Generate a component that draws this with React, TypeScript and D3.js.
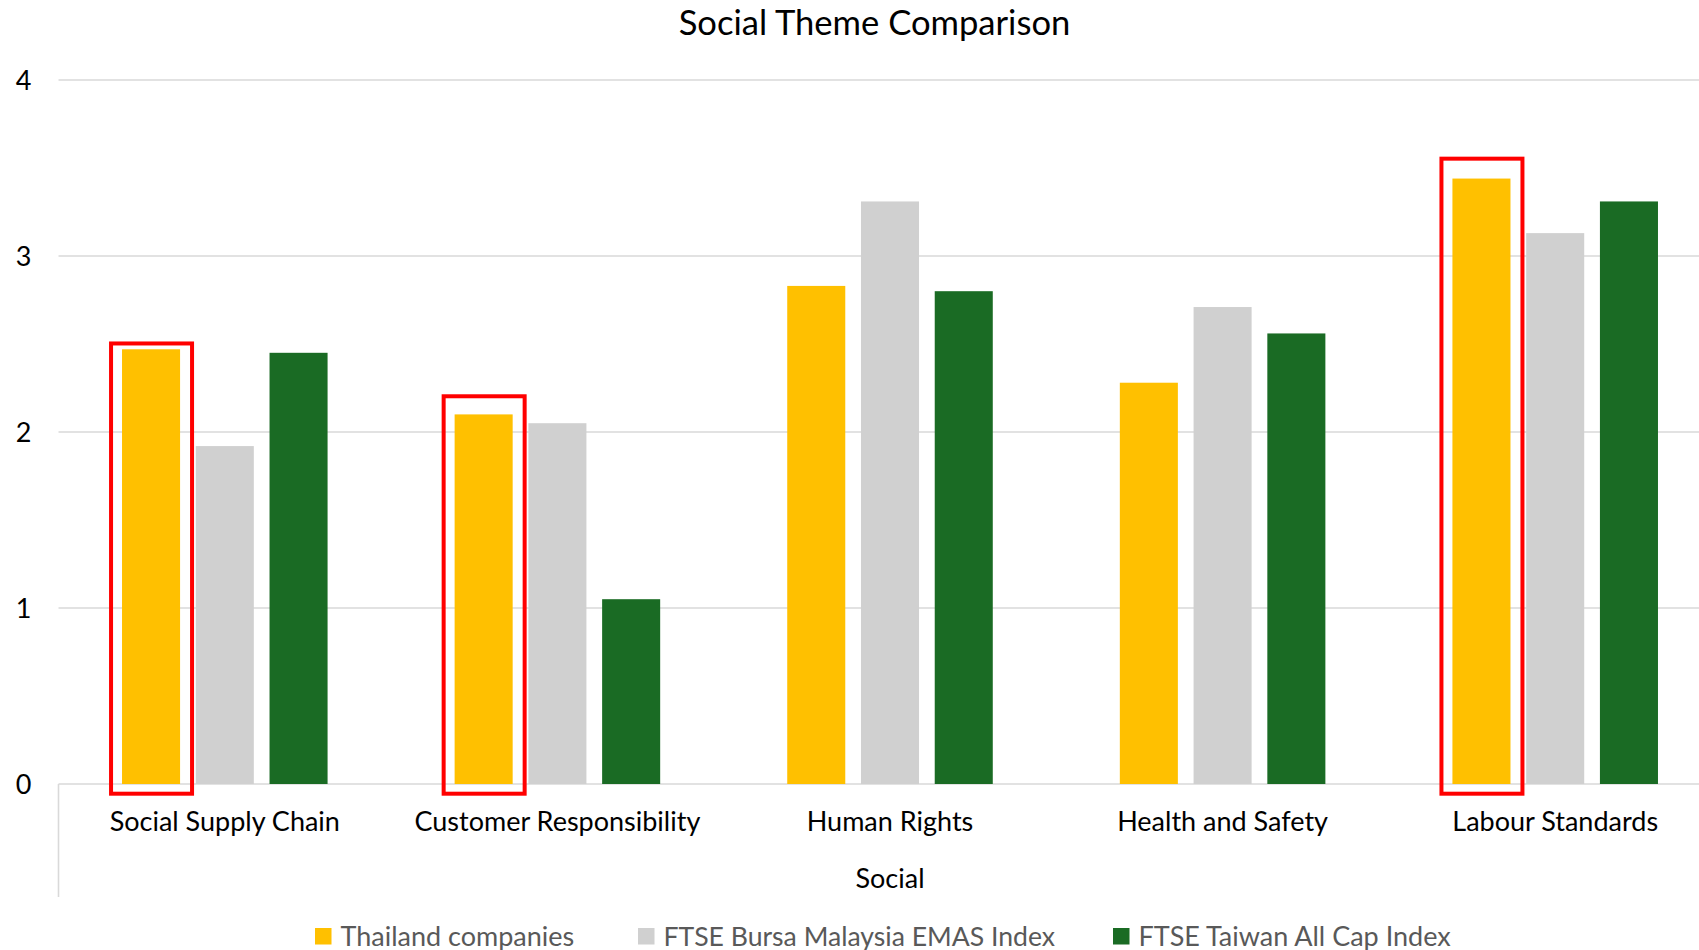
import React, { useEffect } from "react";
import * as d3 from "d3";

// Categories and series for the social theme scores
const categories = [
  "Social Supply Chain",
  "Customer Responsibility",
  "Human Rights",
  "Health and Safety",
  "Labour Standards",
];
const seriesNames = [
  "Thailand companies",
  "FTSE Bursa Malaysia EMAS Index",
  "FTSE Taiwan All Cap Index",
];
const thailand = [2.47, 2.1, 2.83, 2.28, 3.44];
const malaysia = [1.92, 2.05, 3.31, 2.71, 3.13];
const taiwan = [2.45, 1.05, 2.8, 2.56, 3.31];
const seriesColors = ["#FFC000", "#D0D0D0", "#1A6B24"];
const yTicks = [0, 1, 2, 3, 4];

// Highlighted Thailand bars: category and the top of the outline box (value units)
const highlights = [
  { category: "Social Supply Chain", top: 2.503 },
  { category: "Customer Responsibility", top: 2.203 },
  { category: "Labour Standards", top: 3.553 },
];

const W = 1699;
const H = 950;
const FONT = "Lato, 'Noto Sans', sans-serif";

export default function App() {
  useEffect(() => {
    document.body.style.margin = "0";
  }, []);

  const seriesValues = [thailand, malaysia, taiwan];

  const x0 = d3
    .scaleBand<string>()
    .domain(categories)
    .range([58.5, 1721.5])
    .paddingInner(0.382)
    .paddingOuter(0.191);

  const x1 = d3
    .scaleBand<string>()
    .domain(seriesNames)
    .range([0, x0.bandwidth()])
    .paddingInner(0.213)
    .paddingOuter(0);

  const y = d3.scaleLinear().domain([0, 4]).range([784, 80]);

  const legendX = [315, 638, 1113];

  return (
    <svg
      width={W}
      height={H}
      style={{ position: "absolute", left: 0, top: 0, background: "#fff" }}
      fontFamily={FONT}
    >
      <rect x={0} y={0} width={W} height={H} fill="#fff" />
      {/* Title */}
      <text x={874.5} y={34.5} textAnchor="middle" fontSize={34.6} fill="#000">
        Social Theme Comparison
      </text>

      {/* Gridlines and y tick labels */}
      {yTicks.map((t) => (
        <g key={t}>
          <line
            x1={58.5}
            x2={W}
            y1={y(t)}
            y2={y(t)}
            stroke="#D9D9D9"
            strokeWidth={1.6}
          />
          <text
            x={23.5}
            y={y(t) + 9.5}
            textAnchor="middle"
            fontSize={27}
            fill="#000"
          >
            {t}
          </text>
        </g>
      ))}

      {/* Vertical divider of the category axis */}
      <line
        x1={58.5}
        x2={58.5}
        y1={y(0)}
        y2={897}
        stroke="#D9D9D9"
        strokeWidth={1.6}
      />

      {/* Bars */}
      {categories.map((c, ci) => (
        <g key={c} transform={`translate(${x0(c)},0)`}>
          {seriesNames.map((s, si) => {
            const v = seriesValues[si][ci];
            return (
              <rect
                key={s}
                x={x1(s)}
                y={y(v)}
                width={x1.bandwidth()}
                height={y(0) - y(v)}
                fill={seriesColors[si]}
              />
            );
          })}
        </g>
      ))}

      {/* Outline boxes around highlighted Thailand bars */}
      {highlights.map((h) => {
        const cx =
          (x0(h.category) as number) +
          (x1(seriesNames[0]) as number) +
          x1.bandwidth() / 2;
        const top = y(h.top);
        const bottom = 793.7;
        return (
          <rect
            key={h.category}
            x={cx - 40}
            y={top}
            width={81}
            height={bottom - top}
            fill="none"
            stroke="#FF0000"
            strokeWidth={4}
          />
        );
      })}

      {/* Category labels */}
      {categories.map((c) => (
        <text
          key={c}
          x={(x0(c) as number) + x0.bandwidth() / 2}
          y={831}
          textAnchor="middle"
          fontSize={27}
          fill="#000"
        >
          {c}
        </text>
      ))}

      {/* Axis title */}
      <text x={890} y={887.5} textAnchor="middle" fontSize={27} fill="#000">
        Social
      </text>

      {/* Legend */}
      {seriesNames.map((s, i) => (
        <g key={s}>
          <rect
            x={legendX[i]}
            y={928}
            width={16.5}
            height={16.5}
            fill={seriesColors[i]}
          />
          <text
            x={legendX[i] + 25.5}
            y={945.5}
            fontSize={i === 1 ? 26.6 : 27}
            fill="#595959"
          >
            {s}
          </text>
        </g>
      ))}
    </svg>
  );
}
